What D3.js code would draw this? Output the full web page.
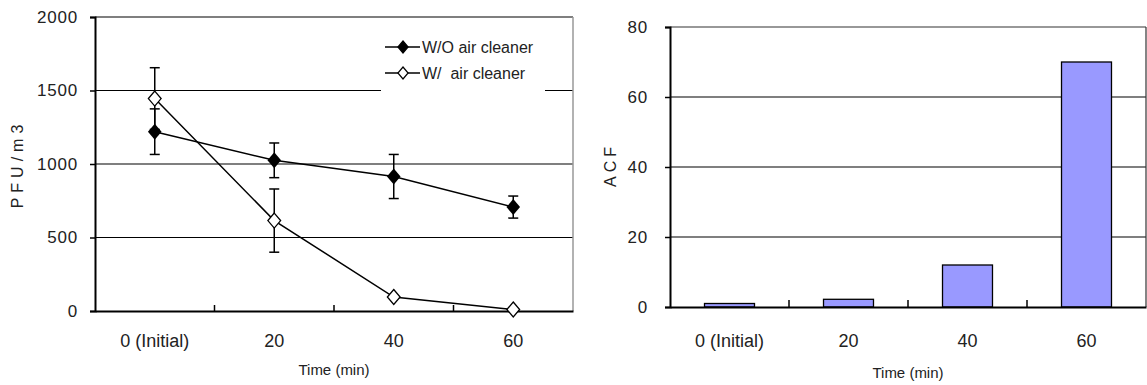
<!DOCTYPE html>
<html><head><meta charset="utf-8">
<script src="https://cdn.jsdelivr.net/npm/d3@7"></script>
<style>
body{margin:0;background:#fff;}
svg text{font-family:"Liberation Sans",Arial,sans-serif;fill:#222;}
</style></head>
<body><svg id="c" width="1147" height="385"></svg>
<script>
const categories = ["0 (Initial)", "20", "40", "60"];
const woValues = [1220, 1025, 915, 707];
const woErrors = [155, 118, 150, 75];
const wValues = [1445, 615, 95, 10];
const wErrors = [210, 215, 0, 0];
const acfValues = [1.0, 2.2, 12, 70];
const leftTicks = [0, 500, 1000, 1500, 2000];
const rightTicks = [0, 20, 40, 60, 80];
const seriesNames = ["W/O air cleaner", "W/  air cleaner"];

const svg = d3.select("#c");
const fmt = d3.format("d");

// ---------- Left chart ----------
const L = {x0: 95, x1: 573, y0: 17, y1: 311};
const xL = d3.scaleBand().domain(categories).range([L.x0, L.x1]).padding(0);
const yL = d3.scaleLinear().domain([0, 2000]).range([L.y1, L.y0]);
const gL = svg.append("g");

gL.selectAll("line.grid").data(leftTicks.filter(t => t > 0 && t < 2000)).enter()
  .append("line").attr("x1", L.x0).attr("x2", L.x1)
  .attr("y1", d => yL(d)).attr("y2", d => yL(d))
  .attr("stroke", "#000").attr("stroke-width", 1.2);
gL.append("line").attr("x1", L.x0).attr("x2", L.x1).attr("y1", L.y0).attr("y2", L.y0).attr("stroke", "#555").attr("stroke-width", 1.5);
gL.append("line").attr("x1", L.x1).attr("x2", L.x1).attr("y1", L.y0).attr("y2", L.y1).attr("stroke", "#999").attr("stroke-width", 1.5);

const yAxisL = d3.axisLeft(yL).tickValues(leftTicks).tickFormat(fmt).tickSize(5).tickPadding(12);
const ga = gL.append("g").attr("transform", `translate(${L.x0},0)`).call(yAxisL);
ga.select(".domain").attr("stroke", "#000").attr("stroke-width", 2);
ga.selectAll(".tick line").attr("stroke", "#000").attr("stroke-width", 1.5);
ga.selectAll("text").attr("font-size", 17).style("letter-spacing", "0.8px").attr("fill", "#222");

const xAxisL = d3.axisBottom(xL).tickSize(0).tickPadding(0);
const gx = gL.append("g").attr("transform", `translate(0,${L.y1})`).call(xAxisL);
gx.select(".domain").attr("stroke", "#000").attr("stroke-width", 2);
gx.selectAll("text").attr("font-size", 18).attr("fill", "#222").attr("dy", null).attr("y", 36);
gL.selectAll("line.xt").data(categories.slice(1)).enter().append("line")
  .attr("x1", d => xL(d)).attr("x2", d => xL(d)).attr("y1", L.y1).attr("y2", L.y1 - 6)
  .attr("stroke", "#000").attr("stroke-width", 1.5);

gL.append("text").attr("x", (L.x0 + L.x1) / 2).attr("y", 375).attr("text-anchor", "middle")
  .attr("font-size", 15).text("Time (min)");
gL.append("text").attr("transform", `translate(23,${(L.y0 + L.y1) / 2}) rotate(-90)`)
  .attr("text-anchor", "middle").attr("font-size", 16).style("letter-spacing", "5px").text("PFU/m3");

const lg = gL.append("g");
lg.append("rect").attr("x", 381).attr("y", 33).attr("width", 164).attr("height", 62).attr("fill", "#fff");

const cx = d => xL(d) + xL.bandwidth() / 2;
const line = d3.line().x(d => cx(d.c)).y(d => yL(d.v));
const woData = categories.map((c, i) => ({c, v: woValues[i], e: woErrors[i]}));
const wData = categories.map((c, i) => ({c, v: wValues[i], e: wErrors[i]}));

gL.append("path").datum(woData).attr("d", line).attr("fill", "none").attr("stroke", "#000").attr("stroke-width", 1.5);
gL.append("path").datum(wData).attr("d", line).attr("fill", "none").attr("stroke", "#000").attr("stroke-width", 1.5);

function errorBars(data) {
  const g = gL.append("g");
  data.filter(d => d.e > 0).forEach(d => {
    const x = cx(d.c);
    g.append("line").attr("x1", x).attr("x2", x).attr("y1", yL(d.v + d.e)).attr("y2", yL(d.v - d.e)).attr("stroke", "#000").attr("stroke-width", 1.5);
    [d.v + d.e, d.v - d.e].forEach(v => {
      g.append("line").attr("x1", x - 5).attr("x2", x + 5).attr("y1", yL(v)).attr("y2", yL(v)).attr("stroke", "#000").attr("stroke-width", 1.5);
    });
  });
}
errorBars(woData);
errorBars(wData);

const diamond = (x, y, r) => `M${x},${y - r}L${x + r * 0.85},${y}L${x},${y + r}L${x - r * 0.85},${y}Z`;
gL.selectAll("path.wo").data(woData).enter().append("path")
  .attr("d", d => diamond(cx(d.c), yL(d.v), 8)).attr("fill", "#000");
gL.selectAll("path.w").data(wData).enter().append("path")
  .attr("d", d => diamond(cx(d.c), yL(d.v), 7.5)).attr("fill", "#fff").attr("stroke", "#000").attr("stroke-width", 1.3);

[47, 73].forEach((y, i) => {
  lg.append("line").attr("x1", 385).attr("x2", 420).attr("y1", y).attr("y2", y).attr("stroke", "#000").attr("stroke-width", 1.5);
  lg.append("path").attr("d", diamond(403, y, 6))
    .attr("fill", i === 0 ? "#000" : "#fff").attr("stroke", "#000").attr("stroke-width", 1.2);
  lg.append("text").attr("x", 422).attr("y", y + 6).attr("font-size", 16)
    .attr("xml:space", "preserve").style("white-space", "pre").text(seriesNames[i]);
});

// ---------- Right chart ----------
const R = {x0: 670, x1: 1146, y0: 27, y1: 307};
const xR = d3.scaleBand().domain(categories).range([R.x0, R.x1]).padding(0);
const yR = d3.scaleLinear().domain([0, 80]).range([R.y1, R.y0]);
const gR = svg.append("g");

gR.selectAll("line.grid").data(rightTicks.filter(t => t > 0 && t < 80)).enter()
  .append("line").attr("x1", R.x0).attr("x2", R.x1)
  .attr("y1", d => yR(d)).attr("y2", d => yR(d))
  .attr("stroke", "#000").attr("stroke-width", 1.2);
gR.append("line").attr("x1", R.x0).attr("x2", R.x1).attr("y1", R.y0).attr("y2", R.y0).attr("stroke", "#333").attr("stroke-width", 1.2);
gR.append("line").attr("x1", R.x1).attr("x2", R.x1).attr("y1", R.y0).attr("y2", R.y1).attr("stroke", "#333").attr("stroke-width", 1.2);

const bw = xR.bandwidth() * 0.42;
gR.selectAll("rect.bar").data(acfValues).enter().append("rect")
  .attr("x", (d, i) => xR(categories[i]) + (xR.bandwidth() - bw) / 2)
  .attr("y", d => yR(d)).attr("width", bw).attr("height", d => R.y1 - yR(d))
  .attr("fill", "#9999FF").attr("stroke", "#000").attr("stroke-width", 1.3);

const yAxisR = d3.axisLeft(yR).tickValues(rightTicks).tickFormat(fmt).tickSize(5).tickPadding(17);
const gay = gR.append("g").attr("transform", `translate(${R.x0},0)`).call(yAxisR);
gay.select(".domain").attr("stroke", "#000").attr("stroke-width", 2);
gay.selectAll(".tick line").attr("stroke", "#000").attr("stroke-width", 1.5);
gay.selectAll("text").attr("font-size", 17).style("letter-spacing", "0.8px").attr("fill", "#222");

const xAxisR = d3.axisBottom(xR).tickSize(0).tickPadding(0);
const gxr = gR.append("g").attr("transform", `translate(0,${R.y1})`).call(xAxisR);
gxr.select(".domain").attr("stroke", "#000").attr("stroke-width", 2);
gxr.selectAll("text").attr("font-size", 18).attr("fill", "#222").attr("dy", null).attr("y", 40);
gR.selectAll("line.xt").data(categories.slice(1)).enter().append("line")
  .attr("x1", d => xR(d)).attr("x2", d => xR(d)).attr("y1", R.y1).attr("y2", R.y1 - 7)
  .attr("stroke", "#000").attr("stroke-width", 1.5);

gR.append("text").attr("x", (R.x0 + R.x1) / 2).attr("y", 378).attr("text-anchor", "middle")
  .attr("font-size", 15).text("Time (min)");
gR.append("text").attr("transform", `translate(616,165) rotate(-90)`)
  .attr("text-anchor", "middle").attr("font-size", 16).style("letter-spacing", "4px").text("ACF");
</script></body></html>
